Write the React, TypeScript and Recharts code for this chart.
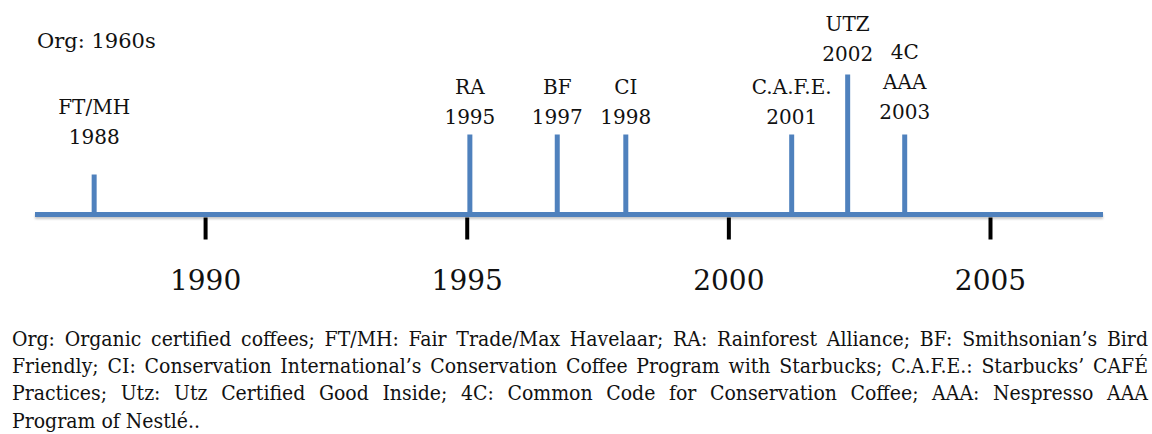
import { ComposedChart, Bar, XAxis, YAxis, LabelList, Customized } from "recharts";

// certification schemes on the timeline
const EVENT_YEARS = [1987.88, 1995.06, 1996.73, 1998.04, 2001.21, 2002.28, 2003.37];
const EVENT_NAMES = [["FT/MH"], ["RA"], ["BF"], ["CI"], ["C.A.F.E."], ["UTZ"], ["4C", "AAA"]];
const EVENT_DATES = ["1988", "1995", "1997", "1998", "2001", "2002", "2003"];
const EVENT_LEVELS = [1, 2, 2, 2, 2, 3.5, 2];

const YEAR_TICKS = [1990, 1995, 2000, 2005];
const YEAR_DOMAIN = [1986.74, 2007.15];

const ORG_NOTE = "Org: 1960s";

const FOOTNOTE_LINES = [
  "Org: Organic certified coffees; FT/MH: Fair Trade/Max Havelaar; RA: Rainforest Alliance; BF: Smithsonian\u2019s Bird",
  "Friendly; CI: Conservation International\u2019s Conservation Coffee Program with Starbucks;  C.A.F.E.: Starbucks\u2019 CAF\u00c9",
  "Practices; Utz: Utz Certified Good Inside; 4C: Common Code for Conservation Coffee; AAA: Nespresso AAA",
  "Program of Nestl\u00e9..",
];

const BLUE = "#4f81bd";
const SERIF = '"DejaVu Serif", serif';

// gap between last label line and the top of its stem
const LABEL_GAP: Record<string, number> = { "FT/MH": 31, UTZ: 14, "4C": 16 };

const data = EVENT_YEARS.map((year, i) => ({ year, level: EVENT_LEVELS[i] }));

function EventLabel(props: any) {
  const { x, y, width, index } = props;
  const cx = x + width / 2;
  const lines = [...EVENT_NAMES[index], EVENT_DATES[index]];
  const gap = LABEL_GAP[EVENT_NAMES[index][0]] ?? 11;
  const base = y - gap;
  return (
    <g>
      {lines.map((t, i) => (
        <text
          key={i}
          x={cx}
          y={base - (lines.length - 1 - i) * 30}
          textAnchor="middle"
          fontFamily={SERIF}
          fontSize={20}
          fill="#111"
        >
          {t}
        </text>
      ))}
    </g>
  );
}

function YearTick(props: any) {
  const { x, y, payload } = props;
  return (
    <g>
      <line x1={x} x2={x} y1={y + 3} y2={y + 25} stroke="#000" strokeWidth={4} />
      <text x={x} y={y + 75} textAnchor="middle" fontFamily={SERIF} fontSize={28} fill="#111">
        {payload.value}
      </text>
    </g>
  );
}

function OrgNote() {
  return (
    <text x={37} y={48} fontFamily={SERIF} fontSize={21} fill="#111">
      {ORG_NOTE}
    </text>
  );
}

export default function App() {
  return (
    <div style={{ position: "absolute", left: 0, top: 0, width: 1152, height: 434, background: "#fff" }}>
      <ComposedChart
        width={1152}
        height={300}
        data={data}
        margin={{ top: 0, right: 49, bottom: 0, left: 35 }}
      >
        <XAxis
          type="number"
          dataKey="year"
          domain={YEAR_DOMAIN}
          allowDataOverflow
          ticks={YEAR_TICKS}
          height={85.5}
          tickSize={0}
          tickMargin={0}
          tickLine={false}
          axisLine={{
            stroke: BLUE,
            strokeWidth: 5,
            style: { filter: "drop-shadow(0px 2px 1px rgba(0,0,0,0.22))" },
          }}
          tick={<YearTick />}
        />
        <YAxis hide domain={[0, 5.3625]} />
        <Bar dataKey="level" fill={BLUE} barSize={5} isAnimationActive={false}>
          <LabelList dataKey="level" content={<EventLabel />} />
        </Bar>
        <Customized component={<OrgNote />} />
      </ComposedChart>
      {FOOTNOTE_LINES.map((line, i) => (
        <div
          key={i}
          style={{
            position: "absolute",
            left: 12,
            top: 326 + i * 27.2,
            width: 1136,
            height: 27,
            lineHeight: "27px",
            fontFamily: '"DejaVu Serif Condensed", "DejaVu Serif", serif',
            fontSize: 21,
            color: "#111",
            textAlign: "justify",
            textAlignLast: i < FOOTNOTE_LINES.length - 1 ? "justify" : "left",
            whiteSpace: "nowrap",
          }}
        >
          {line}
        </div>
      ))}
    </div>
  );
}
